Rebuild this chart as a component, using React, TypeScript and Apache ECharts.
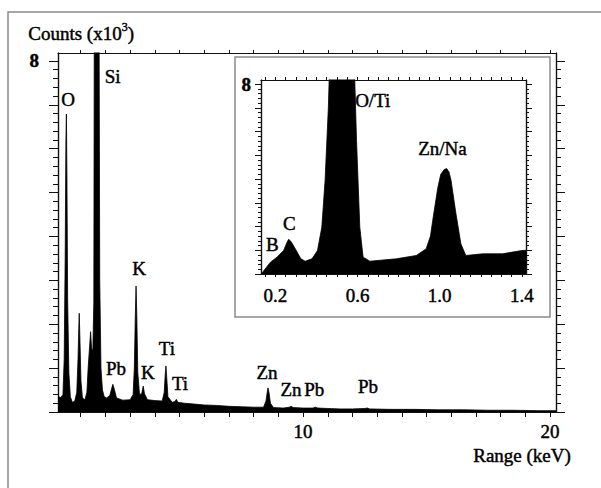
import React, { useEffect, useRef } from "react";
import * as echarts from "echarts";

// Full EDX spectrum: energy (keV) and counts (x10^3)
const mainEnergy = [
  0.08, 0.2, 0.28, 0.33, 0.37, 0.4, 0.42, 0.44, 0.47, 0.52, 0.58, 0.66, 0.76, 0.84, 0.89, 0.92, 0.94, 0.97,
  1.01, 1.07, 1.17, 1.25, 1.3, 1.36, 1.4, 1.44, 1.49, 1.53, 1.55, 1.74, 1.77, 1.82, 1.88, 1.95, 2.05, 2.18,
  2.26, 2.3, 2.36, 2.45, 2.7, 3.0, 3.12, 3.17, 3.21, 3.24, 3.27, 3.31, 3.38, 3.47, 3.53, 3.58, 3.7, 4.0,
  4.3, 4.38, 4.42, 4.45, 4.48, 4.53, 4.7, 4.82, 4.87, 4.93, 5.2, 5.6, 6.0, 6.5, 7.0, 7.5, 8.0, 8.4, 8.5,
  8.55, 8.58, 8.62, 8.68, 8.8, 9.2, 9.45, 9.52, 9.6, 10.0, 10.4, 10.5, 10.6, 11.0, 11.5, 12.0, 12.5, 12.6,
  12.7, 13.5, 14.5, 15.5, 16.5, 17.5, 18.5, 19.5, 20.24,
];
const mainCounts = [
  0.35, 0.33, 0.4, 1.2, 3.5, 6.2, 6.79, 5.5, 2.6, 0.9, 0.35, 0.22, 0.25, 0.45, 1.2, 1.9, 2.25, 1.6,
  0.7, 0.32, 0.28, 0.45, 1.0, 1.5, 1.83, 1.45, 1.4, 2.5, 9.5, 9.5, 3.0, 1.0, 0.5, 0.35, 0.32, 0.38,
  0.55, 0.63, 0.52, 0.32, 0.27, 0.28, 0.4, 1.0, 2.2, 2.87, 2.2, 0.9, 0.4, 0.42, 0.59, 0.42, 0.28, 0.26,
  0.25, 0.45, 0.85, 1.05, 0.8, 0.35, 0.22, 0.24, 0.29, 0.22, 0.2, 0.18, 0.16, 0.15, 0.13, 0.12, 0.11, 0.11, 0.25,
  0.45, 0.55, 0.45, 0.2, 0.1, 0.09, 0.11, 0.13, 0.1, 0.09, 0.09, 0.11, 0.09, 0.08, 0.07, 0.07, 0.08, 0.09,
  0.07, 0.06, 0.06, 0.05, 0.05, 0.04, 0.04, 0.03, 0.03,
];

// Low-energy detail (inset)
const insetEnergy = [
  0.13, 0.14, 0.176, 0.208, 0.24, 0.255, 0.264, 0.275, 0.297, 0.324, 0.345, 0.378, 0.405, 0.426, 0.442,
  0.458, 0.466, 0.582, 0.595, 0.611, 0.627, 0.66, 0.789, 0.886, 0.934, 0.955, 0.966, 0.99, 1.005, 1.022,
  1.034, 1.045, 1.055, 1.079, 1.103, 1.127, 1.208, 1.305, 1.4, 1.42,
];
const insetCounts = [
  0.0, 0.1, 0.5, 0.71, 0.99, 1.3, 1.46, 1.38, 1.06, 0.64, 0.54, 0.64, 0.99, 1.97, 3.95,
  7.04, 9.5, 9.5, 5.63, 1.97, 0.71, 0.54, 0.64, 0.78, 1.06, 1.6, 2.26, 3.6, 4.2, 4.4,
  4.44, 4.3, 3.95, 2.54, 1.27, 0.78, 0.85, 0.85, 0.99, 1.0,
];

// Element labels: [name, keV, counts]
const mainPeakLabels: [string, number, number][] = [
  ["Si", 2.29, 7.65],
  ["O", 0.49, 7.11],
  ["Pb", 2.43, 1.0],
  ["K", 3.36, 3.26],
  ["K", 3.72, 0.89],
  ["Ti", 4.49, 1.44],
  ["Ti", 5.02, 0.66],
  ["Zn", 8.54, 0.91],
  ["Zn", 9.51, 0.52],
  ["Pb", 10.45, 0.52],
  ["Pb", 12.63, 0.57],
];
const insetPeakLabels: [string, number, number][] = [
  ["O/Ti", 0.674, 7.32],
  ["Zn/Na", 1.013, 5.3],
  ["C", 0.268, 2.13],
  ["B", 0.185, 1.24],
];

// Axis ticks and labels
const mainXTicks = [1, 2, 3, 4, 5, 6, 7, 8, 9, 10, 11, 12, 13, 14, 15, 16, 17, 18, 19, 20];
const mainXLabels = [10, 20];
const mainYMajor = [0, 1, 2, 3, 4, 5, 6, 7, 8];
const mainYLabels = [8];
const insetXLabels = [0.2, 0.6, 1.0, 1.4];
const insetYMajor = [0, 1, 2, 3, 4, 5, 6, 7, 8];
const insetYLabels = [8];

const steps = (from: number, to: number, step: number) => {
  const out: number[] = [];
  for (let v = from; v <= to + 1e-9; v += step) out.push(Math.round(v * 1000) / 1000);
  return out;
};

const FONT = "Liberation Serif";
const INK = "#000000";
// thin outline that gives the serif glyphs a slightly heavier stroke
const heavy = { textBorderColor: "#000", textBorderWidth: 0.45 };

const MAIN = { left: 58, top: 53, right: 556, bottom: 412, xMin: 0.08, xMax: 20.24, yMax: 8.18 };
const INSET = { left: 261, top: 80, right: 526, bottom: 274, xMin: 0.13, xMax: 1.42, yMax: 8.17 };

function tickAxis(base: any, ticks: number[], len: number, labels?: number[], labelOpt?: any) {
  return {
    ...base,
    splitLine: { show: false },
    axisLine: { show: true, onZero: false, lineStyle: { color: "#111", width: 1.2 } },
    axisTick: { show: true, inside: false, length: len, customValues: ticks, lineStyle: { color: "#111", width: 1 } },
    axisLabel: labels
      ? { show: true, customValues: labels, color: INK, fontFamily: FONT, fontSize: 19, ...heavy, ...labelOpt }
      : { show: false },
  };
}

const peakLabel = {
  show: true,
  position: [0, 0],
  align: "center",
  verticalAlign: "middle",
  formatter: "{b}",
  color: INK,
  fontFamily: FONT,
  fontSize: 19,
  ...heavy,
};

export default function App() {
  const ref = useRef<HTMLDivElement>(null);

  useEffect(() => {
    if (!ref.current) return;
    const chart = echarts.init(ref.current, undefined, { renderer: "svg" });

    const mainX = { type: "value", gridIndex: 0, min: MAIN.xMin, max: MAIN.xMax };
    const mainY = { type: "value", gridIndex: 0, min: 0, max: MAIN.yMax };
    const insX = { type: "value", gridIndex: 1, min: INSET.xMin, max: INSET.xMax, z: 8 };
    const insY = { type: "value", gridIndex: 1, min: 0, max: INSET.yMax, z: 8 };

    const mainMinorY = steps(0, 8.0, 0.2);
    const insetMinorY = steps(0, 8.0, 0.2);
    const insetXTicks = steps(0.15, 1.4, 0.05);

    const option: any = {
      animation: false,
      backgroundColor: "#ffffff",
      grid: [
        { left: MAIN.left, top: MAIN.top, width: MAIN.right - MAIN.left, height: MAIN.bottom - MAIN.top },
        { left: INSET.left, top: INSET.top, width: INSET.right - INSET.left, height: INSET.bottom - INSET.top, z: 8 },
      ],
      xAxis: [
        tickAxis({ ...mainX, position: "bottom" }, mainXTicks, 5, mainXLabels, { margin: 10 }),
        tickAxis({ ...mainX, position: "top" }, mainXTicks, 3),
        tickAxis({ ...insX, position: "bottom" }, insetXTicks, 3, insetXLabels, {
          margin: 12,
          formatter: (v: number) => v.toFixed(1),
        }),
        tickAxis({ ...insX, position: "top" }, insetXTicks, 3),
      ],
      yAxis: [
        tickAxis({ ...mainY, position: "left" }, mainYMajor, 9, mainYLabels, { margin: 19, fontWeight: "bold" }),
        tickAxis({ ...mainY, position: "left" }, mainMinorY, 5),
        tickAxis({ ...mainY, position: "right" }, mainYMajor, 9),
        tickAxis({ ...mainY, position: "right" }, mainMinorY, 5),
        tickAxis({ ...insY, position: "left" }, insetYMajor, 6, insetYLabels, { margin: 10, fontWeight: "bold" }),
        tickAxis({ ...insY, position: "left" }, insetMinorY, 3),
        tickAxis({ ...insY, position: "right" }, insetYMajor, 6),
        tickAxis({ ...insY, position: "right" }, insetMinorY, 3),
      ],
      graphic: [
        {
          type: "rect",
          z: 0,
          silent: true,
          shape: { x: 8, y: 12, width: 640, height: 520 },
          style: { fill: "none", stroke: "#8a8a8a", lineWidth: 1.5 },
        },
        {
          type: "rect",
          z: 5,
          silent: true,
          shape: { x: 235, y: 57, width: 315, height: 260 },
          style: { fill: "#ffffff", stroke: "#8a8a8a", lineWidth: 1.5 },
        },
        {
          type: "text",
          z: 5,
          left: 28,
          top: 21,
          style: {
            text: "Counts (x10{sup|3})",
            fill: INK,
            fontFamily: FONT,
            fontSize: 19,
            stroke: "#000",
            lineWidth: 0.45,
            rich: {
              sup: {
                fontSize: 12,
                fontFamily: FONT,
                fill: INK,
                verticalAlign: "top",
                lineHeight: 24,
                padding: [0, 0, 12, 0],
              },
            },
          },
        },
        {
          type: "text",
          z: 5,
          x: 522,
          y: 455,
          style: {
            text: "Range (keV)",
            fill: INK,
            fontFamily: FONT,
            fontSize: 19,
            stroke: "#000",
            lineWidth: 0.45,
            align: "center",
            verticalAlign: "middle",
          },
        },
      ],
      series: [
        {
          type: "line",
          xAxisIndex: 0,
          yAxisIndex: 0,
          data: mainEnergy.map((e, i) => [e, mainCounts[i]]),
          showSymbol: false,
          clip: true,
          z: 2,
          lineStyle: { color: "#000", width: 0.8 },
          areaStyle: { color: "#000", opacity: 1 },
        },
        {
          type: "scatter",
          xAxisIndex: 0,
          yAxisIndex: 0,
          z: 3,
          symbolSize: 0,
          itemStyle: { color: "#000", opacity: 1 },
          data: mainPeakLabels.map(([n, x, y]) => ({ name: n, value: [x, y] })),
          label: peakLabel,
        },
        {
          type: "line",
          xAxisIndex: 2,
          yAxisIndex: 4,
          data: insetEnergy.map((e, i) => [e, insetCounts[i]]),
          showSymbol: false,
          clip: true,
          z: 9,
          lineStyle: { color: "#000", width: 0.8 },
          areaStyle: { color: "#000", opacity: 1 },
        },
        {
          type: "scatter",
          xAxisIndex: 2,
          yAxisIndex: 4,
          z: 10,
          symbolSize: 0,
          itemStyle: { color: "#000", opacity: 1 },
          data: insetPeakLabels.map(([n, x, y]) => ({ name: n, value: [x, y] })),
          label: peakLabel,
        },
      ],
    };

    chart.setOption(option);
    return () => chart.dispose();
  }, []);

  return (
    <div
      ref={ref}
      style={{ position: "fixed", left: 0, top: 0, width: 601, height: 488, background: "#fff" }}
    />
  );
}
